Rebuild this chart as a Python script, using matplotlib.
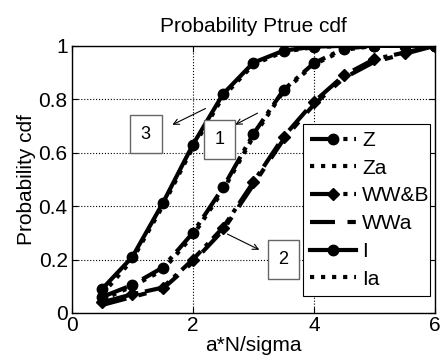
import numpy as np
import matplotlib
matplotlib.use("Agg")
import matplotlib.pyplot as plt

plt.rcParams['font.family'] = ['Liberation Sans', 'DejaVu Sans']

# data
x = [0.5, 1, 1.5, 2, 2.5, 3, 3.5, 4, 4.5, 5, 5.5, 6]
z = [0.06, 0.105, 0.17, 0.30, 0.47, 0.67, 0.835, 0.935, 0.99, 1.0, 1.0, 1.0]
za = [0.05, 0.10, 0.16, 0.29, 0.46, 0.66, 0.83, 0.93, 0.985, 1.0, 1.0, 1.0]
wwb = [0.04, 0.07, 0.095, 0.20, 0.32, 0.49, 0.66, 0.79, 0.89, 0.95, 0.975, 1.0]
wwa = [0.03, 0.06, 0.09, 0.19, 0.31, 0.48, 0.65, 0.78, 0.88, 0.94, 0.97, 1.0]
i_ = [0.09, 0.21, 0.41, 0.63, 0.82, 0.937, 0.982, 0.997, 1.0, 1.0, 1.0, 1.0]
ia = [0.07, 0.20, 0.40, 0.62, 0.81, 0.93, 0.978, 0.995, 1.0, 1.0, 1.0, 1.0]

fs = 15
fig = plt.figure(figsize=(4.41, 3.61), dpi=100)
ax = fig.add_axes([0.163, 0.133, 0.823, 0.74])

lw = 3
ax.plot(x, z, '-.', color='k', lw=lw, marker='o', ms=7.5, label='Z')
ax.plot(x, za, ':', color='k', lw=lw, label='Za')
ax.plot(x, wwb, '-.', color='k', lw=lw, marker='D', ms=6, label='WW&B')
ax.plot(x, wwa, '--', color='k', lw=lw, dashes=(6, 3, 2, 3), label='WWa')
ax.plot(x, i_, '-', color='k', lw=lw, marker='o', ms=7.5, label='I')
ax.plot(x, ia, ':', color='k', lw=lw, label='Ia')

ax.set_xlim(0, 6)
ax.set_ylim(0, 1)
ax.set_xticks([0, 2, 4, 6])
ax.set_yticks([0, 0.2, 0.4, 0.6, 0.8, 1.0])
ax.set_yticklabels(['0', '0.2', '0.4', '0.6', '0.8', '1'])
ax.tick_params(direction='in', top=True, right=True, labelsize=fs, length=4)
ax.tick_params(axis='x', pad=2)
ax.tick_params(axis='y', pad=3)
ax.grid(True, color='k', linestyle=':', linewidth=0.8)
for s in ax.spines.values():
    s.set_linewidth(1.0)

ax.set_title('Probability Ptrue cdf', fontsize=fs, pad=10)
ax.set_xlabel('a*N/sigma', fontsize=fs, labelpad=1)
ax.set_ylabel('Probability cdf', fontsize=fs, labelpad=2)

box = dict(boxstyle='square,pad=0.6', fc='white', ec='0.4', lw=1.0)
arrow = dict(arrowstyle='->', color='k', lw=0.8)
ax.annotate('', xy=(1.62, 0.70), xytext=(2.25, 0.77), arrowprops=arrow)
ax.annotate('', xy=(2.66, 0.70), xytext=(3.11, 0.753), arrowprops=arrow)
ax.annotate('', xy=(3.14, 0.232), xytext=(2.53, 0.30), arrowprops=arrow)
ax.text(1.22, 0.67, '3', ha='center', va='center', fontsize=13, bbox=box)
ax.text(2.44, 0.65, '1', ha='center', va='center', fontsize=13, bbox=box)
ax.text(3.5, 0.20, '2', ha='center', va='center', fontsize=13, bbox=box)

leg = ax.legend(loc='lower left', bbox_to_anchor=(0.687, 0.18, 0.288, 0.471),
                bbox_transform=fig.transFigure, mode='expand', fontsize=fs,
                handlelength=2.2, handletextpad=0.3, labelspacing=0.42,
                borderpad=0.35, borderaxespad=0, fancybox=False,
                framealpha=1, edgecolor='k')
leg.get_frame().set_linewidth(0.8)

fig.savefig('out.png', dpi=100)
